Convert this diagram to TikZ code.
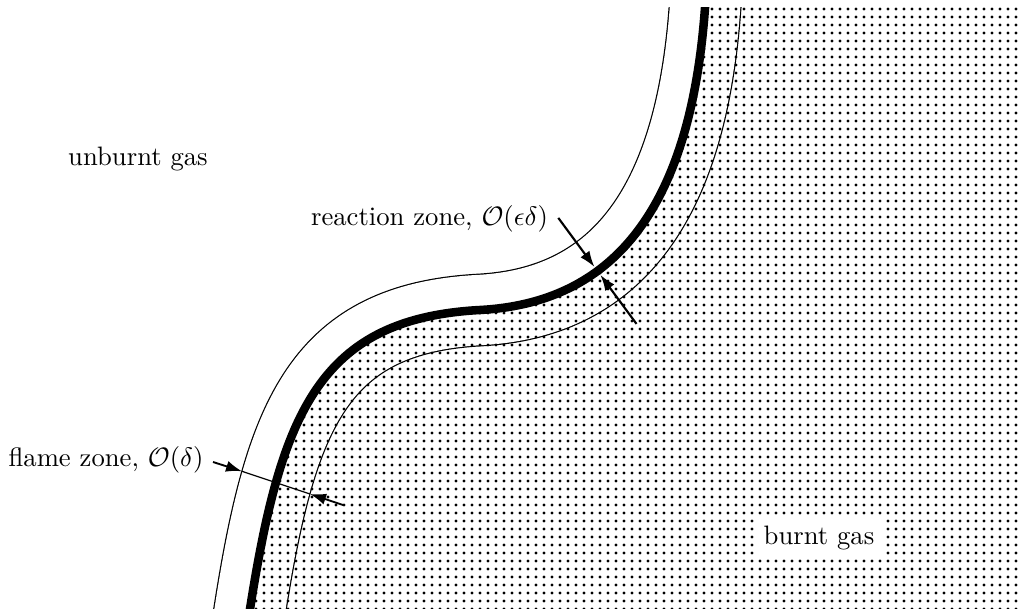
\documentclass[tikz,border=0pt]{standalone}
\usetikzlibrary{patterns,arrows.meta}
\pgfdeclarepatternformonly{burntdots}{\pgfqpoint{-1pt}{-1pt}}{\pgfqpoint{1pt}{1pt}}{\pgfqpoint{3pt}{3pt}}{%
  \pgfpathcircle{\pgfqpoint{0pt}{0pt}}{.62pt}\pgfusepath{fill}}
\begin{document}
\begin{tikzpicture}[x=0.375pt,y=-0.375pt,
  flameline/.style={line width=3.2pt},
  zoneline/.style={line width=0.45pt, double=white, double distance=26.4pt},
  pointer/.style={-{Latex[length=6pt,width=4.2pt]}},
  lbl/.style={anchor=base, inner sep=0pt}]
\useasboundingbox (0,0) rectangle (1022,609);
% flame front geometry
\coordinate (e0) at (243.8,648.4);
\coordinate (p0) at (250,609);
\coordinate (c1) at (281,412);
\coordinate (c2) at (320,318.6);
\coordinate (p1) at (480,310);
\coordinate (c3) at (610,303);
\coordinate (c4) at (690,214);
\coordinate (p2) at (705,8);
\coordinate (e2) at (708,-33.2);
\begin{scope}
  \clip (0,8) rectangle (1022,640);
  \draw[zoneline] (e0) -- (p0) .. controls (c1) and (c2) .. (p1) .. controls (c3) and (c4) .. (p2) -- (e2);
  \fill[pattern=burntdots] (p0) .. controls (c1) and (c2) .. (p1) .. controls (c3) and (c4) .. (p2) -- (e2) -- (1022,-33.2) -- (1022,640) -- (e0) -- cycle;
  \draw[flameline] (e0) -- (p0) .. controls (c1) and (c2) .. (p1) .. controls (c3) and (c4) .. (p2) -- (e2);
\end{scope}
% labels
\node[lbl] (unburnt) at (138,166) {unburnt gas};
\node[lbl] (reaction) at (429.5,226) {reaction zone, $\mathcal{O}(\epsilon\delta)$};
\node[lbl] (flamezone) at (106,467) {flame zone, $\mathcal{O}(\delta)$};
\node[anchor=base, fill=white] (burnt) at (819,545) {burnt gas};
% flame zone arrows
\coordinate (fa) at (213,462);
\coordinate (fb) at (242,471.3);
\coordinate (fc) at (310,494);
\coordinate (fd) at (343,505);
\draw[pointer, line width=0.7pt] (fa) -- (fb);
\draw[line width=0.45pt] (fb) -- (fc);
\draw[pointer, line width=0.7pt] (fd) -- (fc);
% reaction zone arrows
\coordinate (ra) at (558.3,217.9);
\coordinate (rb) at (594.5,267);
\coordinate (rc) at (600.3,274.8);
\coordinate (rd) at (636.5,323.9);
\draw[pointer, thick] (ra) -- (rb);
\draw[pointer, thick] (rd) -- (rc);
\end{tikzpicture}
\end{document}
